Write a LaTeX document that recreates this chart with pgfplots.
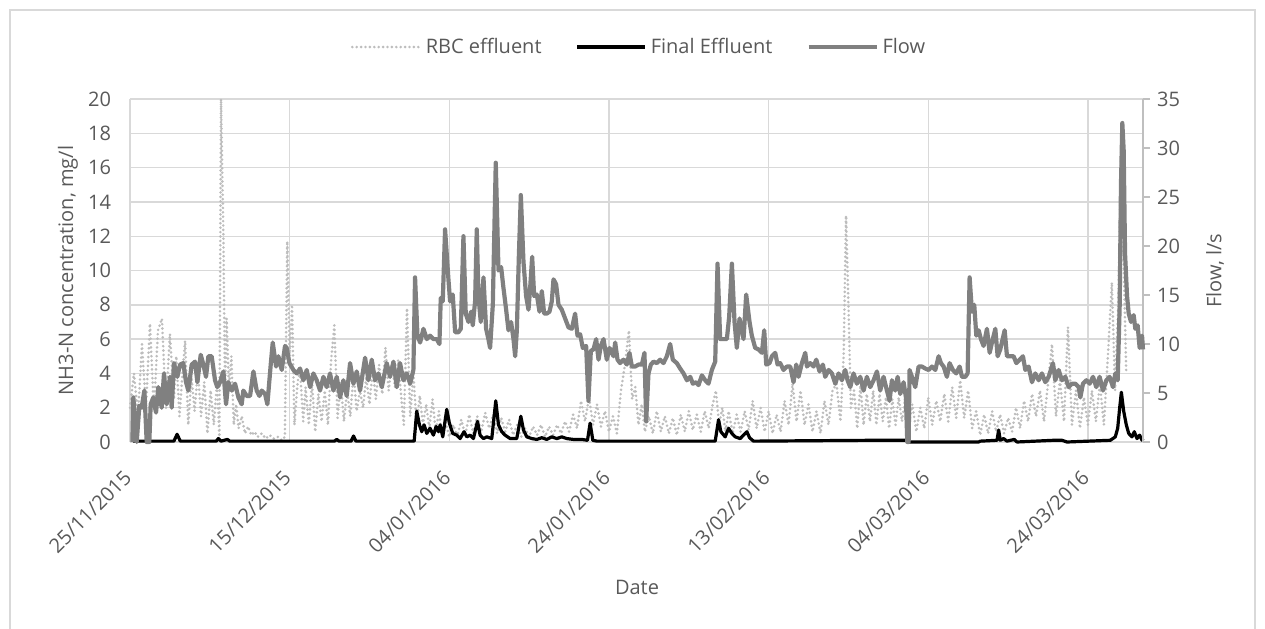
\documentclass[border=0pt]{standalone}
\usepackage{fontspec}
\setmainfont{Open Sans}
\usepackage{pgfplots}
\pgfplotsset{compat=1.18}
\definecolor{txt}{HTML}{595959}
\definecolor{grd}{HTML}{D9D9D9}
\definecolor{flowc}{HTML}{808080}
\definecolor{rbcc}{HTML}{BDBDBD}
\definecolor{axc}{HTML}{BFBFBF}
\newcommand{\fs}{\fontsize{10}{12}\selectfont}
\pgfplotsset{
  rbcstyle/.style={draw=rbcc, line width=1.45pt, line cap=round, dash pattern=on 0pt off 2.2pt, mark=none},
  finstyle/.style={draw=black, line width=1.6pt, line join=round, mark=none},
  flowstyle/.style={draw=flowc, line width=2.1pt, line join=round, mark=none},
}
\begin{document}
\begin{tikzpicture}
\useasboundingbox (0,0) rectangle (632.5pt,314pt);
\draw[grd, line width=0.7pt] (5pt,-10pt) -- (5pt,309pt) -- (627.5pt,309pt) -- (627.5pt,-10pt);
\begin{axis}[
  at={(65pt,93pt)}, anchor=south west,
  scale only axis, width=506.5pt, height=171.5pt,
  xmin=0, xmax=126.9, ymin=0, ymax=20,
  clip=false,
  xtick={0,20,...,120},
  xticklabels={25/11/2015,15/12/2015,04/01/2016,24/01/2016,13/02/2016,04/03/2016,24/03/2016},
  xticklabel style={xshift=-20pt, yshift=-34.75pt, rotate=45, anchor=center, font=\fs, text=txt},
  ytick={0,2,...,20},
  yticklabel style={font=\fs, text=txt, xshift=-6pt},
  /pgf/number format/assume math mode=true,
  grid=major, major grid style={draw=grd, line width=0.7pt},
  axis line style={draw=none}, tick style={draw=none},
  xlabel={Date}, xlabel style={at={(axis description cs:0.5005,-0.4227)}, anchor=center, font=\fs, text=txt},
  ylabel={NH3-N concentration, mg/l}, ylabel style={at={(axis description cs:-0.0612,0.5)}, anchor=center, font=\fs, text=txt},
]
\addplot[rbcstyle] coordinates {
(0,2.0)(0.5,4.0)(1.0,1.5)(1.5,5.7)(2.0,2.0)(2.5,6.9)(3.0,1.8)(3.5,6.5)(4.0,7.2)(4.5,2.0)
(5.0,6.3)(5.5,2.5)(5.8,5.0)(6.2,1.5)(6.5,3.5)(6.9,5.9)(7.3,1.0)(7.7,3.8)(8.1,1.8)(8.5,4.2)
(8.9,1.5)(9.3,3.5)(9.7,0.5)(10.1,3.0)(10.5,1.0)(10.9,3.5)(11.2,0.3)(11.4,20.0)(11.7,12.0)(11.9,3.0)
(12.1,7.2)(12.4,3.0)(12.7,5.0)(13.0,1.0)(13.3,2.2)(13.6,0.8)(14.0,1.5)(14.4,0.5)(14.8,0.9)(15.2,0.4)
(15.6,0.6)(16.0,0.3)(16.5,0.5)(17.0,0.2)(17.5,0.4)(18.0,0.2)(18.5,0.3)(19.0,0.1)(19.4,0.3)(19.7,11.7)
(20.0,5.0)(20.3,8.0)(20.6,1.0)(21.0,3.5)(21.3,4.2)(21.7,1.2)(22.0,3.2)(22.4,1.0)(22.8,3.5)(23.2,0.6)
(23.6,2.8)(24.0,1.2)(24.4,3.0)(24.8,1.0)(25.2,4.8)(25.6,6.8)(26.0,1.4)(26.4,3.5)(26.8,1.2)(27.2,3.0)
(27.6,1.5)(28.0,4.0)(28.4,1.8)(28.8,3.0)(29.2,2.0)(29.6,3.8)(30.0,2.2)(30.4,4.2)(30.8,2.5)(31.2,4.5)
(31.6,2.8)(32.0,5.5)(32.4,3.0)(32.8,4.5)(33.2,3.2)(33.6,4.8)(34.0,2.5)(34.3,1.0)(34.7,7.8)(35.1,1.5)
(35.5,4.0)(35.9,1.0)(36.3,2.7)(36.7,1.0)(37.1,2.2)(37.5,0.8)(37.9,2.5)(38.3,0.6)(38.7,1.8)(39.1,0.4)
(39.5,1.2)(40.0,0.3)(40.5,1.0)(41.0,0.3)(41.5,1.3)(42.0,0.4)(42.5,1.6)(43.0,0.5)(43.5,1.5)(44.0,0.6)
(44.5,1.7)(45.0,0.8)(45.5,1.6)(46.0,0.5)(46.5,1.4)(47.0,0.6)(47.5,1.3)(48.0,0.4)(48.5,1.0)(49.0,0.3)
(49.5,0.8)(50.0,0.3)(50.5,0.9)(51.0,0.4)(51.5,1.0)(52.0,0.3)(52.5,0.9)(53.0,0.4)(53.5,1.0)(54.0,0.5)
(54.5,1.2)(55.0,0.6)(55.5,1.6)(56.0,0.8)(56.5,2.4)(57.0,1.2)(57.5,2.6)(58.0,1.0)(58.5,2.2)(59.0,0.9)
(59.5,1.8)(60.0,0.6)(60.5,1.5)(61.0,0.5)(61.5,3.0)(62.0,4.5)(62.5,6.5)(62.9,2.5)(63.3,3.2)(63.7,1.0)
(64.1,2.2)(64.5,0.6)(65.0,1.5)(65.5,0.5)(66.0,1.8)(66.5,0.6)(67.0,1.5)(67.5,0.5)(68.0,1.4)(68.5,0.4)
(69.0,1.6)(69.5,0.6)(70.0,1.8)(70.5,0.7)(71.0,1.6)(71.5,0.6)(72.0,1.8)(72.5,0.8)(73.0,2.2)(73.4,3.0)
(73.8,1.0)(74.2,2.0)(74.6,0.6)(75.0,1.8)(75.5,0.5)(76.0,1.6)(76.5,0.6)(77.0,1.8)(77.5,0.7)(78.0,2.4)
(78.5,0.8)(79.0,2.0)(79.5,0.6)(80.0,1.8)(80.5,0.5)(81.0,1.6)(81.5,0.6)(82.0,2.4)(82.5,1.0)(83.0,3.4)
(83.5,1.2)(84.0,3.0)(84.5,1.0)(85.0,2.2)(85.5,0.6)(86.0,1.8)(86.5,0.5)(87.0,2.4)(87.5,1.0)(88.0,3.0)
(88.5,3.4)(89.0,1.2)(89.4,5.0)(89.7,13.2)(90.0,8.0)(90.3,2.0)(90.7,3.0)(91.1,0.8)(91.5,3.3)(91.9,1.0)
(92.3,2.8)(92.7,1.2)(93.1,3.0)(93.5,1.0)(93.9,2.8)(94.3,1.2)(94.7,2.6)(95.1,0.8)(95.5,2.5)(95.9,1.0)
(96.3,2.6)(96.7,1.2)(97.1,2.5)(97.5,0.8)(98.0,2.2)(98.5,0.6)(99.0,2.0)(99.5,0.8)(100.0,2.6)(100.5,1.0)
(101.0,2.4)(101.5,1.2)(102.0,2.8)(102.5,1.2)(103.0,3.2)(103.5,1.4)(104.0,3.6)(104.5,1.4)(105.0,3.0)(105.5,0.8)
(106.0,1.8)(106.5,0.4)(107.0,1.6)(107.5,0.5)(108.0,1.8)(108.5,0.6)(109.0,1.6)(109.5,0.5)(110.0,1.4)(110.5,0.6)
(111.0,2.0)(111.5,0.8)(112.0,2.4)(112.5,1.2)(113.0,2.8)(113.5,1.5)(114.0,3.0)(114.5,1.2)(115.0,3.4)(115.5,5.7)
(116.0,1.5)(116.5,3.6)(117.0,1.2)(117.5,6.7)(118.0,1.0)(118.5,3.0)(119.0,0.8)(119.5,2.6)(120.0,1.0)(120.5,3.0)
(121.0,1.2)(121.5,3.4)(122.0,1.0)(122.5,5.0)(123.0,9.3)(123.4,3.0)(123.8,8.0)(124.2,17.6)(124.5,10.0)(124.8,4.0)
};
\addplot[finstyle] coordinates {
(0.4,0.05)(5.5,0.05)(5.9,0.45)(6.3,0.05)(10.8,0.05)(11.07,0.2)(11.4,0.05)(12.2,0.15)(12.5,0.05)
(25.6,0.05)(25.9,0.15)(26.2,0.05)(27.7,0.05)(28.0,0.35)(28.3,0.05)(35.6,0.05)
(35.92,1.8)(36.26,1.0)(36.55,0.6)(36.84,1.0)(37.18,0.5)(37.59,0.8)(38.01,0.4)(38.35,0.9)(38.65,0.6)(38.85,1.0)
(39.18,0.3)(39.68,1.9)(40.01,1.1)(40.43,0.5)(40.94,0.4)(41.35,0.2)(41.85,0.6)(42.19,0.3)(42.61,0.4)(43.02,0.2)
(43.53,1.2)(43.86,0.4)(44.28,0.2)(44.70,0.3)(45.32,0.2)(45.82,2.4)(46.16,1.0)(46.57,0.6)(46.99,0.4)(47.62,0.2)
(48.45,0.2)(48.96,1.5)(49.29,0.7)(49.71,0.3)(50.33,0.2)(50.96,0.15)(51.59,0.25)(52.21,0.15)(52.84,0.3)(53.47,0.2)
(54.09,0.3)(54.72,0.2)(55.55,0.15)(56.60,0.15)(57.31,0.1)(57.64,1.1)(57.98,0.1)(58.48,0.05)
(73.31,0.05)(73.73,1.3)(74.02,0.6)(74.56,0.3)(74.98,0.8)(75.40,0.5)(75.82,0.3)(76.44,0.2)(77.28,0.6)(77.61,0.25)(78.11,0.05)
(93.15,0.1)(97.33,0.1)(97.45,0)(106.31,0)(106.52,0.05)(108.61,0.1)(108.82,0.7)(109.02,0.1)(109.44,0.2)(109.86,0.05)
(110.78,0.15)(111.11,0.0)(115.71,0.1)(116.75,0.1)(117.38,0.0)(122.81,0.1)(123.43,0.3)(123.73,0.8)(123.98,2.0)(124.19,2.9)
(124.48,1.8)(124.81,1.0)(125.11,0.5)(125.52,0.3)(125.81,0.6)(126.15,0.2)(126.48,0.4)(126.78,0.1)(126.90,0.2)
};
\end{axis}
\begin{axis}[
  at={(65pt,93pt)}, anchor=south west,
  scale only axis, width=506.5pt, height=171.5pt,
  xmin=0, xmax=126.9, ymin=0, ymax=35,
  clip=false,
  axis x line=none, axis y line*=right,
  y axis line style={draw=axc, line width=0.7pt},
  ytick={0,5,...,35},
  ytick style={draw=axc, line width=0.7pt},
  tick align=outside, major tick length=3.5pt,
  yticklabel style={font=\fs, text=txt},
  /pgf/number format/assume math mode=true,
  ylabel={Flow, l/s}, ylabel style={at={(axis description cs:1.0711,0.5)}, anchor=center, font=\fs, text=txt},
  legend columns=3,
  legend style={at={(axis description cs:0.5035,1.1516)}, anchor=center, draw=none, fill=none, font=\fs, text=txt,
    /tikz/every even column/.append style={column sep=15pt}},
  legend image code/.code={\draw[#1] (0pt,0pt) -- (34pt,0pt);},
]
\addlegendimage{rbcstyle}
\addlegendentry{RBC effluent}
\addlegendimage{finstyle}
\addlegendentry{Final Effluent}
\addplot[flowstyle] coordinates {
(0.30,0)(0.42,4.55)(0.84,0)(1.17,3.7)(1.46,3.5)(1.80,5.25)(2.09,0)(2.42,0)(2.59,3.85)(2.92,4.55)
(3.26,3.0)(3.55,5.6)(3.97,3.5)(4.26,7.0)(4.59,3.85)(5.01,6.65)(5.22,3.5)(5.51,8.05)(5.93,6.65)(6.27,7.9)
(6.68,8.05)(7.02,6.1)(7.31,5.25)(7.73,7.9)(8.15,8.2)(8.44,6.1)(8.86,8.9)(9.19,7.9)(9.52,6.65)(9.82,8.75)
(10.23,8.75)(10.65,6.3)(10.94,5.6)(11.28,6.1)(11.70,7.2)(12.03,3.85)(12.32,6.1)(12.74,5.25)(13.16,5.95)(13.58,4.55)
(13.99,3.85)(14.20,5.25)(14.62,4.7)(15.04,4.7)(15.46,7.2)(15.87,5.25)(16.21,4.7)(16.50,5.25)(16.92,4.9)(17.21,3.85)
(17.63,7.9)(17.88,10.15)(18.30,7.7)(18.59,8.75)(19.01,7.35)(19.42,9.8)(19.63,9.6)(19.97,8.05)(20.47,7.35)(20.89,7.0)
(21.30,7.5)(21.72,6.3)(22.14,7.35)(22.56,5.6)(22.97,7.0)(23.39,6.3)(23.81,5.25)(24.23,6.65)(24.64,5.6)(25.06,7.0)
(25.48,5.25)(25.90,6.65)(26.32,4.55)(26.73,6.3)(27.15,4.7)(27.57,8.05)(27.99,5.95)(28.40,7.2)(28.82,5.25)(29.45,8.6)
(29.87,6.3)(30.28,8.4)(30.70,6.3)(31.12,7.0)(31.54,5.6)(32.16,8.05)(32.58,6.65)(33.00,8.2)(33.42,5.6)(33.83,8.05)
(34.25,6.3)(34.67,7.0)(35.09,5.95)(35.50,7.35)(35.71,16.8)(36.01,10.85)(36.34,10.15)(36.76,11.55)(37.18,10.5)(37.59,10.85)
(38.01,10.5)(38.43,10.5)(38.76,10.0)(38.93,14.7)(39.18,14.35)(39.47,21.7)(39.89,16.6)(40.10,14.35)(40.43,15.05)(40.73,11.2)
(41.14,11.2)(41.44,11.55)(41.77,21.0)(42.06,13.1)(42.40,12.25)(42.73,13.3)(42.94,11.9)(43.23,14.35)(43.44,21.7)(43.65,14.9)
(43.94,12.25)(44.28,16.8)(44.61,11.55)(44.90,10.5)(45.11,9.6)(45.45,14.0)(45.82,28.5)(46.16,17.5)(46.49,17.85)(46.78,15.75)
(47.12,13.5)(47.41,11.4)(47.74,12.25)(48.04,10.5)(48.25,8.75)(48.46,11.4)(48.71,18.9)(48.96,25.2)(49.29,18.4)(49.62,14.9)
(49.92,13.5)(50.13,15.75)(50.38,18.9)(50.63,14.9)(50.96,15.05)(51.30,13.3)(51.59,15.4)(51.88,13.1)(52.21,13.1)(52.55,13.3)
(52.84,14.35)(53.05,16.6)(53.38,16.1)(53.68,14.0)(54.09,13.5)(54.51,12.6)(54.93,11.7)(55.35,11.55)(55.76,13.1)(56.06,10.85)
(56.39,11.0)(56.72,9.6)(57.14,9.8)(57.43,4.2)(57.73,9.3)(58.06,9.45)(58.40,10.5)(58.69,8.4)(58.98,9.8)(59.32,10.5)
(59.73,8.4)(60.07,9.6)(60.57,8.75)(60.78,10.15)(61.07,8.4)(61.40,8.05)(61.82,8.4)(62.24,7.9)(62.57,9.1)(62.87,7.7)
(63.28,7.7)(63.70,7.9)(64.12,7.9)(64.45,9.1)(64.66,2.1)(64.95,7.0)(65.25,7.9)(65.58,8.2)(66.00,8.05)(66.42,8.4)
(66.83,8.05)(67.25,8.75)(67.67,10.0)(68.00,8.4)(68.50,8.05)(68.92,7.5)(69.34,7.0)(69.76,6.3)(70.18,6.65)(70.51,5.95)
(70.93,6.1)(71.22,5.8)(71.64,6.8)(72.06,6.3)(72.47,5.95)(72.89,7.35)(73.31,8.2)(73.60,18.2)(73.93,10.5)(74.35,10.5)
(74.77,10.5)(75.06,12.8)(75.40,18.2)(75.73,12.25)(76.02,9.6)(76.36,12.6)(76.86,10.5)(77.19,15.05)(77.61,12.25)(77.90,10.85)
(78.32,9.6)(78.74,9.45)(79.16,9.1)(79.45,11.4)(79.70,7.9)(80.12,8.05)(80.41,8.75)(80.83,9.1)(81.12,7.9)(81.45,8.05)
(81.87,7.35)(82.29,7.7)(82.71,7.7)(83.12,6.1)(83.46,7.9)(83.75,6.65)(84.17,8.05)(84.59,9.1)(84.80,7.7)(85.21,8.05)
(85.63,7.7)(85.97,8.4)(86.38,7.2)(86.80,7.9)(87.09,6.65)(87.51,7.35)(87.93,7.0)(88.35,5.95)(88.76,7.0)(89.18,6.3)
(89.60,7.35)(89.89,6.3)(90.23,5.6)(90.64,7.0)(91.06,5.95)(91.48,6.65)(91.90,5.25)(92.31,6.65)(92.73,5.6)(93.15,6.3)
(93.57,7.2)(93.98,5.25)(94.40,6.65)(94.82,5.25)(95.15,4.2)(95.45,6.3)(95.86,5.25)(96.16,6.65)(96.49,4.9)(96.91,6.1)
(97.20,4.55)(97.37,0)(97.54,0)(97.66,7.35)(97.95,6.65)(98.37,5.6)(98.79,7.7)(99.21,7.7)(99.62,7.5)(100.04,7.35)
(100.46,7.7)(100.88,7.35)(101.30,8.75)(101.59,8.05)(101.92,7.7)(102.34,6.65)(102.67,8.05)(103.09,7.35)(103.51,7.0)(103.93,7.7)
(104.22,6.65)(104.64,6.65)(104.93,7.0)(105.18,16.8)(105.47,13.3)(105.76,14.0)(106.02,10.85)(106.31,11.4)(106.60,10.5)(106.93,9.8)
(107.35,11.55)(107.69,9.1)(107.98,10.15)(108.40,11.55)(108.69,8.75)(109.02,9.45)(109.57,11.4)(109.86,8.75)(110.28,8.75)(110.69,8.75)
(111.03,8.05)(111.45,8.4)(111.86,8.75)(112.16,7.35)(112.57,7.7)(112.99,6.1)(113.41,7.0)(113.83,6.3)(114.24,7.0)(114.66,6.1)
(115.08,6.65)(115.62,8.05)(115.92,6.3)(116.33,7.35)(116.75,6.3)(117.17,6.65)(117.59,5.6)(118.00,5.95)(118.42,5.95)(118.84,5.6)
(119.05,4.55)(119.38,5.95)(119.80,6.3)(120.22,5.95)(120.64,6.65)(121.05,5.6)(121.47,6.65)(121.89,5.25)(122.31,6.3)(122.72,6.65)
(123.14,5.6)(123.43,7.0)(123.73,6.3)(123.98,14.0)(124.14,26.25)(124.31,32.55)(124.48,29.75)(124.65,19.25)(124.90,14.9)(125.11,13.1)
(125.40,12.25)(125.73,12.95)(125.94,11.55)(126.23,11.9)(126.48,9.6)(126.78,10.85)(126.90,9.45)
};
\addlegendentry{Flow}
\end{axis}
\end{tikzpicture}
\end{document}
